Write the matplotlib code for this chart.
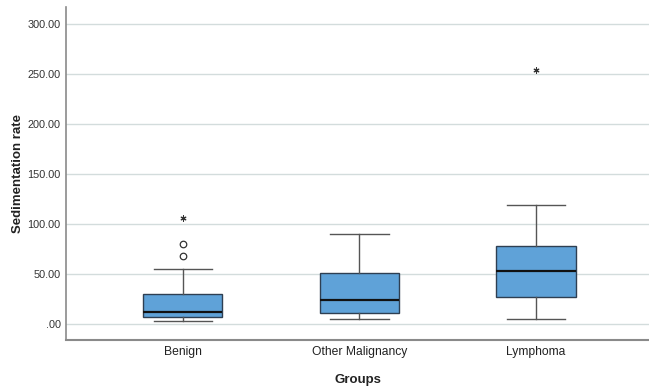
import matplotlib
matplotlib.use("Agg")
import matplotlib.pyplot as plt

plt.rcParams['font.family'] = ['Liberation Sans', 'DejaVu Sans']

groups = ['Benign', 'Other Malignancy', 'Lymphoma']
q1 = [7, 11, 27]
median = [12, 24, 53]
q3 = [30, 51, 78]
whisker_low = [3, 5, 5]
whisker_high = [55, 90, 119]
# mild outliers (circles) and extreme outliers (stars)
circle_outliers = [[68, 80], [], []]
star_outliers = [[106], [], [254]]
yticks = [0, 50, 100, 150, 200, 250, 300]

fig = plt.figure(figsize=(6.49, 3.86), dpi=100)
ax = fig.add_axes([0.102, 0.119, 0.898, 0.863])

stats = []
for i in range(len(groups)):
    stats.append({'label': groups[i], 'q1': q1[i], 'med': median[i], 'q3': q3[i],
                  'whislo': whisker_low[i], 'whishi': whisker_high[i], 'fliers': []})

pos = [1, 2, 3]
ax.bxp(stats, positions=pos, widths=0.45, patch_artist=True, showfliers=False,
       boxprops=dict(facecolor='#5fa2d8', edgecolor='#2e3f52', linewidth=1.0),
       medianprops=dict(color='#111111', linewidth=1.6),
       whiskerprops=dict(color='#555555', linewidth=1.0),
       capprops=dict(color='#555555', linewidth=1.0),
       capwidths=0.33, zorder=3)

for i in range(len(groups)):
    if circle_outliers[i]:
        ax.scatter([pos[i]] * len(circle_outliers[i]), circle_outliers[i], s=22,
                   facecolors='white', edgecolors='#333333', linewidths=0.9, zorder=4)
    if star_outliers[i]:
        ax.scatter([pos[i]] * len(star_outliers[i]), star_outliers[i], s=14,
                   marker=(6, 2, 0), color='#333333', linewidths=0.8, zorder=4)

ax.set_xlim(0.34, 3.64)
ax.set_ylim(-16, 317)
ax.set_yticks(yticks)
ax.set_yticklabels(['.00' if v == 0 else '%.2f' % v for v in yticks], fontsize=7.8, color='#333333')
ax.set_xticks(pos)
ax.set_xticklabels(groups, fontsize=8.7, color='#222222')
ax.tick_params(axis='both', length=0, pad=4)
ax.grid(axis='y', color='#d3dcdc', linewidth=1.0, zorder=0)
ax.set_axisbelow(True)

for s in ['top', 'right']:
    ax.spines[s].set_visible(False)
ax.spines['left'].set_color('#8a8a8a')
ax.spines['bottom'].set_color('#8a8a8a')
ax.spines['left'].set_linewidth(1.2)
ax.spines['bottom'].set_linewidth(1.5)

ax.set_ylabel('Sedimentation rate', fontsize=9.5, fontweight='bold', color='#222222', labelpad=2.5)
ax.set_xlabel('Groups', fontsize=9.5, fontweight='bold', color='#222222', labelpad=12)

fig.savefig('out.png', dpi=100)
